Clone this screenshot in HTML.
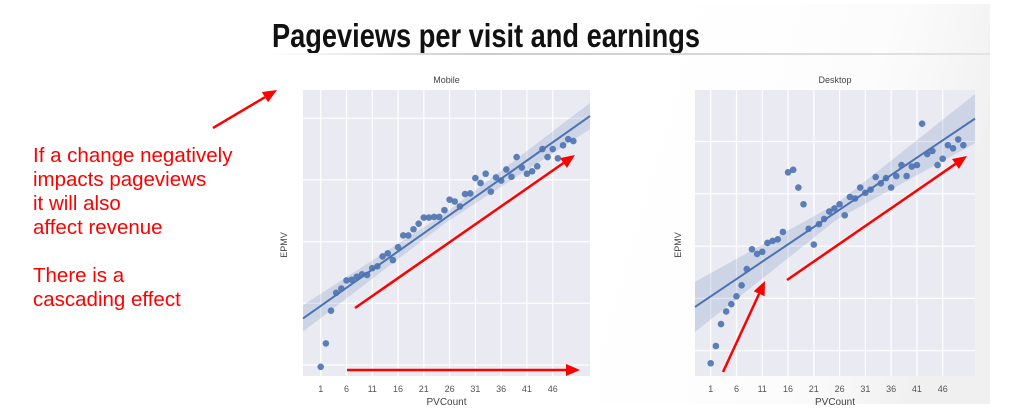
<!DOCTYPE html>
<html><head><meta charset="utf-8"><style>
html,body{margin:0;padding:0;background:#fff;}
svg{display:block;font-family:"Liberation Sans",sans-serif;}
</style></head><body>
<svg id="root" width="1024" height="413" viewBox="0 0 1024 413" xmlns="http://www.w3.org/2000/svg">
<defs>
<linearGradient id="bgg" x1="0" y1="0" x2="1" y2="0.3">
<stop offset="0" stop-color="#fff" stop-opacity="0"/><stop offset="0.7" stop-color="#f8f8f8" stop-opacity="0.5"/><stop offset="1" stop-color="#f0f0f0"/>
</linearGradient>
<linearGradient id="ul" x1="0" x2="1"><stop offset="0" stop-color="#fff"/><stop offset="0.3" stop-color="#ccc"/><stop offset="1" stop-color="#e4e4e4"/></linearGradient>
</defs>
<rect x="600" y="4" width="390" height="400" fill="url(#bgg)"/>
<text x="272" y="47" font-size="33" font-weight="bold" textLength="428" lengthAdjust="spacingAndGlyphs" fill="#111">Pageviews per visit and earnings</text>
<rect x="265" y="53" width="725" height="2" fill="url(#ul)"/>
<g fill="#ff0000" font-size="20.5">
<text x="33" y="162">If a change negatively</text>
<text x="33" y="186">impacts pageviews</text>
<text x="33" y="210">it will also</text>
<text x="33" y="234">affect revenue</text>
<text x="33" y="282">There is a</text>
<text x="33" y="306">cascading effect</text>
</g>
<g id="charts"></g>
<g id="arrows"></g>
</svg>
<script>
const pvCount = [];
for (let i = 1; i <= 50; i++) pvCount.push(i);
const xTickLabels = [1, 6, 11, 16, 21, 26, 31, 36, 41, 46];
const mobileEpmv = [-0.03,0.35,0.88,1.17,1.24,1.37,1.38,1.43,1.47,1.46,1.57,1.6,1.76,1.81,1.7,1.91,2.1,2.1,2.2,2.29,2.39,2.39,2.4,2.4,2.51,2.68,2.65,2.57,2.77,2.78,3.03,2.95,3.1,2.81,3.04,2.99,3.17,3.05,3.37,3.2,3.1,3.14,3.22,3.5,3.37,3.5,3.35,3.56,3.66,3.63];
const desktopEpmv = [-0.24,0.09,0.51,0.75,0.89,1.04,1.25,1.56,1.94,1.85,1.89,2.06,2.1,2.13,2.27,3.41,3.46,3.12,2.8,2.33,2.03,2.42,2.52,2.66,2.72,2.8,2.59,2.94,2.91,3.12,3.02,3.08,3.32,3.2,3.3,3.12,3.34,3.55,3.34,3.52,3.55,4.34,3.76,3.82,3.55,3.67,3.93,3.87,4.04,3.93];

const NS = 'http://www.w3.org/2000/svg';
function mk(tag, attrs, parent) {
  const e = document.createElementNS(NS, tag);
  for (const k in attrs) e.setAttribute(k, attrs[k]);
  parent.appendChild(e);
  return e;
}
function regress(xs, ys) {
  const n = xs.length; let sx=0, sy=0, sxx=0, sxy=0;
  for (let i=0;i<n;i++){sx+=xs[i];sy+=ys[i];sxx+=xs[i]*xs[i];sxy+=xs[i]*ys[i];}
  const b=(n*sxy-sx*sy)/(n*sxx-sx*sx); return {b, a:(sy-b*sx)/n};
}
function drawChart(cfg, ys) {
  const root = document.getElementById('charts');
  const g = mk('g', {}, root);
  
  
  const xS = v => cfg.x1px + (v - 1) * cfg.xUnit;
  const yS = v => cfg.y0px - v * cfg.yUnit;
  const bg = mk('rect', {x: cfg.left, y: 90, width: cfg.right - cfg.left, height: 286, fill: '#eaeaf2'}, g);
  
  
  xTickLabels.forEach(t => {
    const gl = mk('line', {x1: xS(t), x2: xS(t), y1: 90, y2: 376, stroke: '#fff', 'stroke-width': 1.2}, g);
    
    
    const tl = mk('text', {x: xS(t), y: 392, 'font-size': 9, fill: '#555', 'text-anchor': 'middle'}, g);
    
    
    tl.textContent = t;
  });
  for (let k = 0; k <= 4; k++) {
    const gl = mk('line', {x1: cfg.left, x2: cfg.right, y1: yS(k), y2: yS(k), stroke: '#fff', 'stroke-width': 1.2}, g);
    
    
  }
  const r = regress(pvCount, ys);
  const xa = 1 + (cfg.left - cfg.x1px) / cfg.xUnit, xb = 1 + (cfg.right - cfg.x1px) / cfg.xUnit;
  const ci = (x) => cfg.ciBase + cfg.ciGrow * Math.abs(x - 25.5) / 25;
  const pts = [];
  for (let s = 0; s <= 20; s++) { const x = xa + (xb - xa) * s / 20; pts.push([xS(x), yS(r.a + r.b * x + ci(x))]); }
  for (let s = 20; s >= 0; s--) { const x = xa + (xb - xa) * s / 20; pts.push([xS(x), yS(r.a + r.b * x - ci(x))]); }
  const band = mk('polygon', {points: pts.map(p => p.join(',')).join(' '), fill: '#4c72b0', 'fill-opacity': 0.18}, g);
  
  
  const ln = mk('line', {x1: xS(xa), y1: yS(r.a + r.b * xa), x2: xS(xb), y2: yS(r.a + r.b * xb), stroke: '#4c72b0', 'stroke-width': 2}, g);
  
  
  ys.forEach((v, i) => {
    const c = mk('circle', {cx: xS(pvCount[i]), cy: yS(v), r: 3.3, fill: '#4c72b0', 'fill-opacity': 0.9}, g);
    
    
  });
  const t = mk('text', {x: (cfg.left + cfg.right) / 2, y: 83, 'font-size': 9, fill: '#444', 'text-anchor': 'middle'}, g);
  
  
  t.textContent = cfg.title;
  const xl = mk('text', {x: (cfg.left + cfg.right) / 2, y: 405, 'font-size': 10, fill: '#444', 'text-anchor': 'middle'}, g);
  
  
  xl.textContent = 'PVCount';
  const yl = mk('text', {x: 0, y: 0, 'font-size': 9, fill: '#444', 'text-anchor': 'middle', transform: 'translate(' + cfg.ylx + ',245) rotate(-90)'}, g);
  
  
  yl.textContent = 'EPMV';
}
drawChart({name: 'mobile', title: 'Mobile', left: 303, right: 590, x1px: 320.7, xUnit: 5.156, y0px: 365, yUnit: 61.7, ciBase: 0.08, ciGrow: 0.12, ylx: 287}, mobileEpmv);
drawChart({name: 'desktop', title: 'Desktop', left: 695, right: 975, x1px: 710.7, xUnit: 5.156, y0px: 350.7, yUnit: 52.3, ciBase: 0.15, ciGrow: 0.3, ylx: 681}, desktopEpmv);

const arrows = [[213,128,277,90],[355,308,575,155],[347,370,580,370],[723,372,765,281],[787,280,967,156]];
const ag = document.getElementById('arrows');
arrows.forEach(a => {
  const [x1,y1,x2,y2] = a;
  const ang = Math.atan2(y2-y1, x2-x1), L = 14, W = 6;
  const bx = x2 - L*Math.cos(ang), by = y2 - L*Math.sin(ang);
  const l = mk('line', {x1, y1, x2: bx, y2: by, stroke: '#ff0000', 'stroke-width': 2.5}, ag);
  
  
  const p = mk('polygon', {points: `${x2},${y2} ${bx + W*Math.sin(ang)},${by - W*Math.cos(ang)} ${bx - W*Math.sin(ang)},${by + W*Math.cos(ang)}`, fill: '#ff0000'}, ag);
  
  
});
</script>
</body></html>
